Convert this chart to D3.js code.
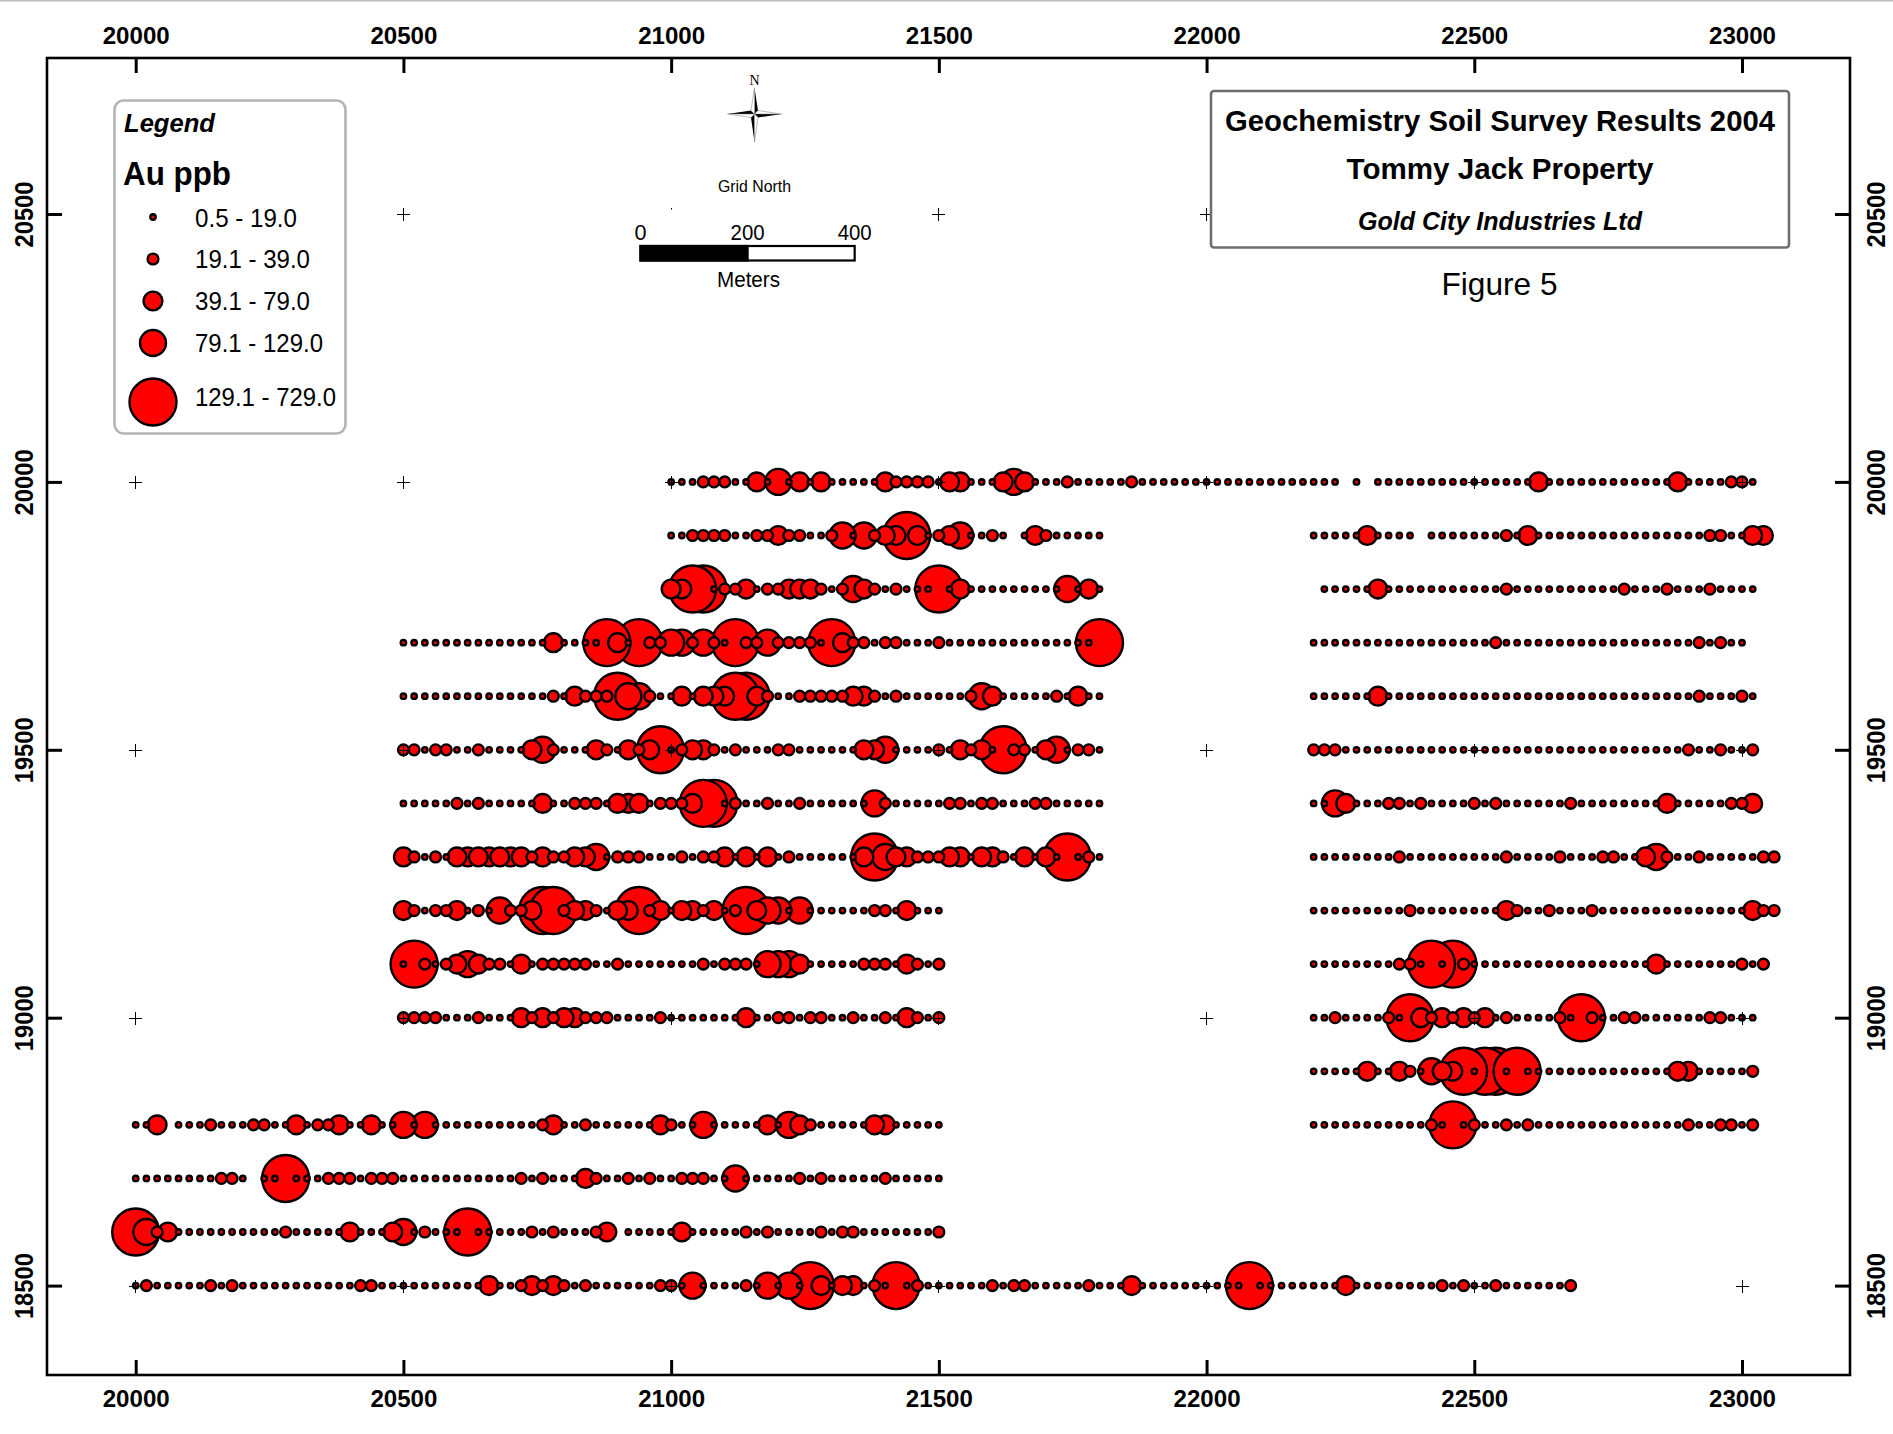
<!DOCTYPE html>
<html>
<head>
<meta charset="utf-8">
<title>Geochemistry Soil Survey Results 2004</title>
<script src="https://cdn.jsdelivr.net/npm/d3@7"></script>
<style>
html,body{margin:0;padding:0;background:#fff;}
svg{display:block;}
text{font-family:"Liberation Sans",Arial,sans-serif;fill:#000;}
</style>
</head>
<body>
<div id="chart"></div>
<script>
// Axis ticks
const eastTicks = [20000,20500,21000,21500,22000,22500,23000];
const northTicks = [18500,19000,19500,20000,20500];

// Au size class per station (0 = no sample); stations are 20 m apart; each group = 100 m
const L20000 = [
 1,1,1,2,2, 2,1,1,3,1, 4,1,3,1,3, 1,1,1,1,1, 3,2,2,2,2,
 1,3,3,1,1, 1,3,4,3,1, 1,1,2,1,1, 1,1,1,2,1, 1,1,1,1,1,
 1,1,1,1,1, 1,1,1,1,1, 1,1,1,0,1, 0,1,1,1,1, 1,1,1,1,1,
 1,1,1,1,1, 1,3,1,1,1, 1,1,1,1,1, 1,1,1,1,3, 1,1,1,1,2, 2,1];
const L19900W = [
 1,1,2,2,2, 2,1,1,2,2, 3,2,2,1,1, 2,4,1,4,2, 3,3,5,3,1,
 2,3,4,1,1, 2,1,0,1,3, 2,1,1,1,1, 1];
const L19900E = [
 1,1,1,1,1, 3,1,1,1,1, 0,1,1,1,1, 1,1,1,2,1, 3,1,1,1,1,
 1,1,1,1,1, 1,1,1,1,1, 1,1,2,2,1, 1,3,3];
const L19800W = [
 3,3,5,5,1, 2,2,3,1,2, 2,3,3,3,2, 1,2,4,3,2, 1,2,1,1,1,
 5,1,3,1,1, 1,1,1,1,1, 1,1,4,1,3, 1];
const L19800E = [
 1,1,1,1, 1,3,1,1,1, 1,1,1,1,1, 1,1,1,2,1, 1,1,1,1,1,
 1,1,1,1,2, 1,1,1,2,1, 1,1,2,1,1, 1,1];
const L19700W = [
 1,1,1,1,1, 1,1,1,1,1, 1,1,1,1,3, 1,1,1,1,5, 3,1,5,2,2,
 4,4,2,4,2, 1,5,2,2,4, 2,2,2,2,1, 5,3,2,2,1, 2,2,1,1,1,
 2,1,1,1,1, 1,1,1,1,1, 1,1,1,1,1, 5];
const L19700E = [
 1,1,1,1,1, 1,1,1,1,1, 1,1,1,1,1, 1,1,2,1,1, 1,1,1,1,1,
 1,1,1,1,1, 1,1,1,1,1, 1,2,1,2,1, 1];
const L19600W = [
 1,1,1,1,1, 1,1,1,1,1, 1,1,1,1,2, 1,3,2,2,2, 5,4,4,2,1,
 1,3,1,3,3, 3,5,5,3,2, 1,1,2,2,2, 2,2,3,3,2, 1,2,1,1,1,
 1,1,1,2,4, 3,1,1,1,1, 1,2,1,3,1, 1];
const L19600E = [
 1,1,1,1,1, 1,3,1,1,1, 1,1,1,1,1, 1,1,1,1,1, 1,1,1,1,1,
 1,1,1,1,1, 1,1,1,1,1, 1,2,1,1,1, 2,1];
const L19500W = [
 2,2,1,2,2, 1,1,2,1,1, 1,1,3,4,2, 1,1,1,3,2, 1,3,2,3,5,
 1,2,3,3,2, 1,2,1,1,1, 2,2,1,1,1, 1,1,1,3,3, 4,1,1,1,1,
 2,1,3,2,3, 1,5,2,2,1, 3,4,1,2,2, 1];
const L19500E = [
 2,2,2,1,1, 1,1,1,1,1, 1,1,1,1,1, 1,1,1,1,1, 1,1,1,1,1,
 1,1,1,1,1, 1,1,1,1,1, 2,1,1,2,1, 1,2];
const L19400W = [
 1,1,1,1,1, 2,1,2,1,1, 1,1,1,3,1, 1,2,2,2,1, 3,3,3,1,2,
 2,2,3,5,5, 1,2,1,1,2, 1,1,2,1,1, 1,1,1,1,4, 2,1,1,1,1,
 1,2,2,1,2, 2,1,1,1,2, 2,1,1,1,1, 1];
const L19400E = [
 1,1,4,3,1, 1,1,2,2,1, 2,1,1,1,1, 2,1,2,1,1, 1,1,1,1,2,
 1,1,1,1,1, 1,1,1,3,1, 1,1,1,1,2, 2,3];
const L19300W = [
 3,2,1,2,1, 3,3,3,3,3, 3,3,2,3,2, 2,3,3,4,1, 2,2,2,1,1,
 1,2,1,2,2, 3,1,3,1,3, 1,2,1,1,1, 1,1,1,3,5, 4,3,3,2,2,
 2,3,3,1,3, 3,2,1,3,1, 3,1,5,1,2, 1];
const L19300E = [
 1,1,1,1,1, 1,1,1,2,1, 1,1,1,1,1, 1,1,1,2,1, 1,1,1,2,1,
 1,1,2,2,1, 1,3,4,2,1, 1,2,1,1,1, 1,1,2,2];
const L19200W = [
 3,2,1,2,2, 3,1,2,1,4, 2,2,3,5,5, 2,3,3,2,1, 3,3,5,2,3,
 1,3,3,2,3, 1,2,5,3,4, 4,1,4,1,1, 1,1,1,1,2, 2,1,3,1,1, 1];
const L19200E = [
 1,1,1,1,1, 1,1,1,1,2, 1,1,1,1,1, 1,1,1,3,2, 1,1,2,1,1,
 1,2,1,1,1, 1,1,1,1,1, 1,1,1,1,1, 1,3,2,2];
const L19100W = [
 1,5,2,1,2, 3,4,3,2,2, 1,3,1,2,2, 2,2,2,1,1, 2,1,1,1,1,
 1,1,1,2,1, 2,2,2,1,4, 4,4,3,1,1, 1,1,1,2,2, 2,1,3,2,1, 2];
const L19100E = [
 1,1,1,1,1, 1,1,1,2,2, 1,5,1,5,2, 1,1,1,1,1, 1,1,1,1,1,
 1,1,1,1,1, 1,1,3,1,1, 1,1,1,1,1, 2,1,2];
const L19000W = [
 2,2,2,2,1, 1,1,2,1,1, 1,3,2,3,2, 3,3,2,2,2, 1,1,1,1,2,
 1,1,1,1,1, 1,1,3,1,1, 2,2,1,2,2, 1,1,2,1,1, 2,1,3,2,1, 2];
const L19000E = [
 1,1,2,1,1, 1,1,2,1,5, 3,2,3,2,3, 2,3,1,2,1, 1,1,1,2,1,
 5,2,1,1,2, 2,1,1,1,1, 1,1,2,2,1, 1,1];
const L18900E = [
 1,1,1,1,1, 3,1,1,3,2, 1,4,3,3,5, 1,5,5,1,5, 1,1,1,1,1,
 1,1,1,1,1, 1,1,1,1,3, 3,1,1,1,1, 1,2];
const L18800W = [
 1,1,3,0,1, 1,1,2,1,1, 1,2,2,1,1, 3,1,2,2,3, 1,1,3,1,1,
 4,1,4,1,1, 1,1,1,1,1, 1,1,1,2,3, 1,1,2,1,1, 1,1,1,1,3,
 2,1,1,4,1, 1,1,1,1,3, 1,4,3,2,1, 1,1,1,1,3, 3,1,1,1,1, 1];
const L18800E = [
 1,1,1,1,1, 1,1,1,1,1, 1,2,1,5,1, 2,1,1,2,1, 2,1,1,1,1,
 1,1,1,1,1, 1,1,1,1,1, 2,1,1,2,2, 1,2];
const L18700W = [
 1,1,1,1,1, 1,1,1,2,2, 1,0,1,1,5, 1,1,1,2,2, 2,1,2,2,2,
 1,1,1,1,1, 1,1,1,1,1, 1,2,1,2,1, 1,1,3,2,1, 1,2,1,2,1,
 1,2,2,2,1, 1,4,1,1,1, 1,1,2,1,2, 1,1,1,1,1, 2,1,1,1,1, 1];
const L18600W = [
 5,4,2,3,1, 1,1,1,1,1, 1,1,1,1,2, 1,1,1,1,1, 3,1,1,1,3,
 4,1,2,1,1, 1,5,1,1,1, 1,1,2,1,2, 1,1,1,2,3, 0,1,1,1,1,
 1,3,1,1,1, 1,1,2,1,2, 1,1,1,1,2, 1,2,2,1,1, 1,1,1,1,1, 2];
const L18500 = [
 1,2,1,1,1, 1,1,2,1,2, 1,1,1,1,1, 1,1,1,1,1, 1,2,2,1,1,
 1,1,1,1,1, 1,1,1,3,1, 1,2,3,2,3, 2,1,2,1,1, 1,1,1,1,2,
 2,1,4,1,1, 1,1,2,1,4, 1,4,1,5,3, 1,3,3,1,2, 1,5,1,2,1,
 1,1,1,1,1, 2,1,2,2,1, 1,1,1,1,2, 1,1,1,3,1, 1,1,1,1,1,
 1,1,1,1,5, 1,1,1,1,1, 1,1,1,3,1, 1,1,1,1,1, 1,1,2,1,2,
 1,1,2,1,1, 1,1,1,1,2];

// [northing, first easting, stations]
const surveyLines = [
 [20000,21000,L20000],
 [19900,21000,L19900W],[19900,22200,L19900E],
 [19800,21000,L19800W],[19800,22220,L19800E],
 [19700,20500,L19700W],[19700,22200,L19700E],
 [19600,20500,L19600W],[19600,22200,L19600E],
 [19500,20500,L19500W],[19500,22200,L19500E],
 [19400,20500,L19400W],[19400,22200,L19400E],
 [19300,20500,L19300W],[19300,22200,L19300E],
 [19200,20500,L19200W],[19200,22200,L19200E],
 [19100,20500,L19100W],[19100,22200,L19100E],
 [19000,20500,L19000W],[19000,22200,L19000E],
 [18900,22200,L18900E],
 [18800,20000,L18800W],[18800,22200,L18800E],
 [18700,20000,L18700W],
 [18600,20000,L18600W],
 [18500,20000,L18500]
];
// stacking among circles of one class: [easting, northing, rank]; negative = underneath
const stackRank = [
 [20780,19200,1],[22580,18900,1],
 [20620,19300,-1],[20660,19300,-1],[20700,19300,-1],
 [20920,19400,-1],
 [21220,19800,1],[21240,19800,2],[21260,19800,3]
];

const legendLabels = ["0.5 - 19.0","19.1 - 39.0","39.1 - 79.0","79.1 - 129.0","129.1 - 729.0"];
const legendClasses = [1,2,3,4,5];
const legendLens = [102,115,115,128,141];
const classRadius = [0,2.7,5.4,9.4,13,23.5];

const W = 1893, H = 1434;
const frame = {l:47, t:58, r:1850, b:1375};
const x = d3.scaleLinear().domain([20000,23000]).range([135.7,1742]);
const y = d3.scaleLinear().domain([18500,20500]).range([1285.6,214]);

const svg = d3.select("#chart").append("svg").attr("width",W).attr("height",H);
svg.append("rect").attr("width",W).attr("height",H).attr("fill","#fff");
svg.append("rect").attr("width",W).attr("height",1.5).attr("fill","#bdbdbd");

// flatten stations
const stations = [];
surveyLines.forEach(([n,e0,vals]) => vals.forEach((c,i) => {
  if (c > 0) stations.push({e:e0+i*20, n, c});
}));
const rankOf = d => { const r = stackRank.find(([e,n]) => e===d.e && n===d.n); return r ? r[2] : 0; };
stations.sort((a,b) => (b.c-a.c) || (rankOf(a)-rankOf(b)) || (b.e-a.e) || (a.n-b.n));

const marks = svg.append("g");
marks.selectAll("circle").data(stations).join("circle")
  .attr("cx",d=>x(d.e)).attr("cy",d=>y(d.n)).attr("r",d=>classRadius[d.c])
  .attr("fill","#ff0000").attr("stroke","#000").attr("stroke-width",2.4);

// grid crosses
const grid = d3.cross(eastTicks,northTicks);
const crossG = svg.append("g").attr("stroke","#000").attr("stroke-width",1);
grid.forEach(([e,n])=>{
  const px = Math.floor(x(e))+.5, py = Math.round(y(n))+.5;
  crossG.append("line").attr("x1",px-6.5).attr("x2",px+6.5).attr("y1",py).attr("y2",py);
  crossG.append("line").attr("x1",px).attr("x2",px).attr("y1",py-6.5).attr("y2",py+6.5);
});

// frame
svg.append("rect").attr("x",frame.l).attr("y",frame.t)
  .attr("width",frame.r-frame.l).attr("height",frame.b-frame.t)
  .attr("fill","none").attr("stroke","#000").attr("stroke-width",2.6);

function styleTicks(g){
  g.select(".domain").remove();
  g.selectAll(".tick line").attr("stroke","#000").attr("stroke-width",3);
}
const fmt = d3.format("d");
const topAxis = svg.append("g").attr("transform",`translate(0,${frame.t})`)
  .call(d3.axisTop(x).tickValues(eastTicks).tickFormat(fmt).tickSize(-15))
  .call(styleTicks)
  .call(g=>g.selectAll("text").attr("y",-14.5).attr("dy",0));
const bottomAxis = svg.append("g").attr("transform",`translate(0,${frame.b})`)
  .call(d3.axisBottom(x).tickValues(eastTicks).tickFormat(fmt).tickSize(-15))
  .call(styleTicks)
  .call(g=>g.selectAll("text").attr("y",31.5).attr("dy",0));
const leftAxis = svg.append("g").attr("transform",`translate(${frame.l},0)`)
  .call(d3.axisLeft(y).tickValues(northTicks).tickFormat(fmt).tickSize(-15))
  .call(styleTicks)
  .call(g=>g.selectAll("text").attr("x",0).attr("dy",0)
    .attr("transform","translate(-14,0) rotate(-90)"));
const rightAxis = svg.append("g").attr("transform",`translate(${frame.r},0)`)
  .call(d3.axisRight(y).tickValues(northTicks).tickFormat(fmt).tickSize(-15))
  .call(styleTicks)
  .call(g=>g.selectAll("text").attr("x",0).attr("dy",0)
    .attr("transform","translate(35,0) rotate(-90)"));
svg.selectAll(".tick text")
  .attr("font-family",'"Liberation Sans",Arial,sans-serif')
  .attr("font-weight","bold").attr("text-anchor","middle")
  .attr("font-size",23).attr("textLength",67).attr("lengthAdjust","spacingAndGlyphs");
leftAxis.selectAll("text").attr("font-size",26).attr("textLength",66);
rightAxis.selectAll("text").attr("font-size",26).attr("textLength",66);

function label(txt,px,py,size,opts={}){
  const t = svg.append("text").attr("x",px).attr("y",py).attr("font-size",size).text(txt)
    .attr("text-anchor",opts.anchor||"start");
  if(opts.bold) t.attr("font-weight","bold");
  if(opts.italic) t.attr("font-style","italic");
  if(opts.len) t.attr("textLength",opts.len).attr("lengthAdjust","spacingAndGlyphs");
  if(opts.family) t.style("font-family",opts.family);
  return t;
}

// legend
svg.append("rect").attr("x",114.5).attr("y",100.5).attr("width",231).attr("height",333)
  .attr("rx",9).attr("fill","#fff").attr("stroke","#b4b4b4").attr("stroke-width",2.6);
label("Legend",124,132,26,{bold:true,italic:true,len:91});
label("Au ppb",123,185,33,{bold:true,len:108});
const legendY = [217,259,301,343,402];
const legendBase = [227,268,310,352,406];
legendClasses.forEach((c,i)=>{
  svg.append("circle").attr("cx",153).attr("cy",legendY[i]).attr("r",classRadius[c])
    .attr("fill","#ff0000").attr("stroke","#000").attr("stroke-width",2.4);
  label(legendLabels[i],195,legendBase[i],25,{len:legendLens[i]});
});

// compass
const cx=754.5, cy=114;
const comp = svg.append("g").attr("transform",`translate(${cx},${cy})`);
comp.append("path").attr("fill","#000")
  .attr("d","M0,-26 L3.5,-3.5 L0,0 Z M0,28 L-3.5,3.5 L0,0 Z M-27,0 L-3.5,-3.5 L0,0 Z M27,0 L3.5,3.5 L0,0 Z");
comp.append("path").attr("fill","#fff").attr("stroke","#777").attr("stroke-width",.5)
  .attr("d","M0,-26 L-3.5,-3.5 L0,0 Z M0,28 L3.5,3.5 L0,0 Z M-27,0 L-3.5,3.5 L0,0 Z M27,0 L3.5,-3.5 L0,0 Z");
label("N",754.5,85,14,{anchor:"middle",family:'"Liberation Serif",serif'});
label("Grid North",754.5,191.5,16.5,{anchor:"middle",len:73});

// scale bar: white backing hides the grid cross except its tip
svg.append("rect").attr("x",620).attr("y",209.5).attr("width",260).attr("height",90).attr("fill","#fff");
const scaleSteps = [0,200,400];
const scaleLens = [12,34,34];
const barX0 = 640.5, barY = 246, barH = 14.5;
const mPx = m => x(20000+m)-x(20000);
svg.append("rect").attr("x",barX0).attr("y",barY).attr("width",mPx(400)).attr("height",barH).attr("fill","#fff").attr("stroke","#000").attr("stroke-width",2.2);
svg.append("rect").attr("x",barX0).attr("y",barY).attr("width",mPx(200)).attr("height",barH).attr("fill","#000").attr("stroke","#000").attr("stroke-width",2.2);
scaleSteps.forEach((m,i)=>label(String(m),barX0+mPx(m),239.5,21.5,{anchor:"middle",len:scaleLens[i]}));
label("Meters",748.5,287,21.5,{anchor:"middle",len:63});

// title box
svg.append("rect").attr("x",1211).attr("y",91).attr("width",578).attr("height",156.5)
  .attr("rx",3).attr("fill","#fff").attr("stroke","#6e6e6e").attr("stroke-width",2.6);
label("Geochemistry Soil Survey Results 2004",1500,131,30,{anchor:"middle",bold:true,len:550});
label("Tommy Jack Property",1500,178.5,30,{anchor:"middle",bold:true,len:307});
label("Gold City Industries Ltd",1500,229.5,26.5,{anchor:"middle",bold:true,italic:true,len:284});
label("Figure 5",1499.5,295,32,{anchor:"middle",len:116});
</script>
</body>
</html>
